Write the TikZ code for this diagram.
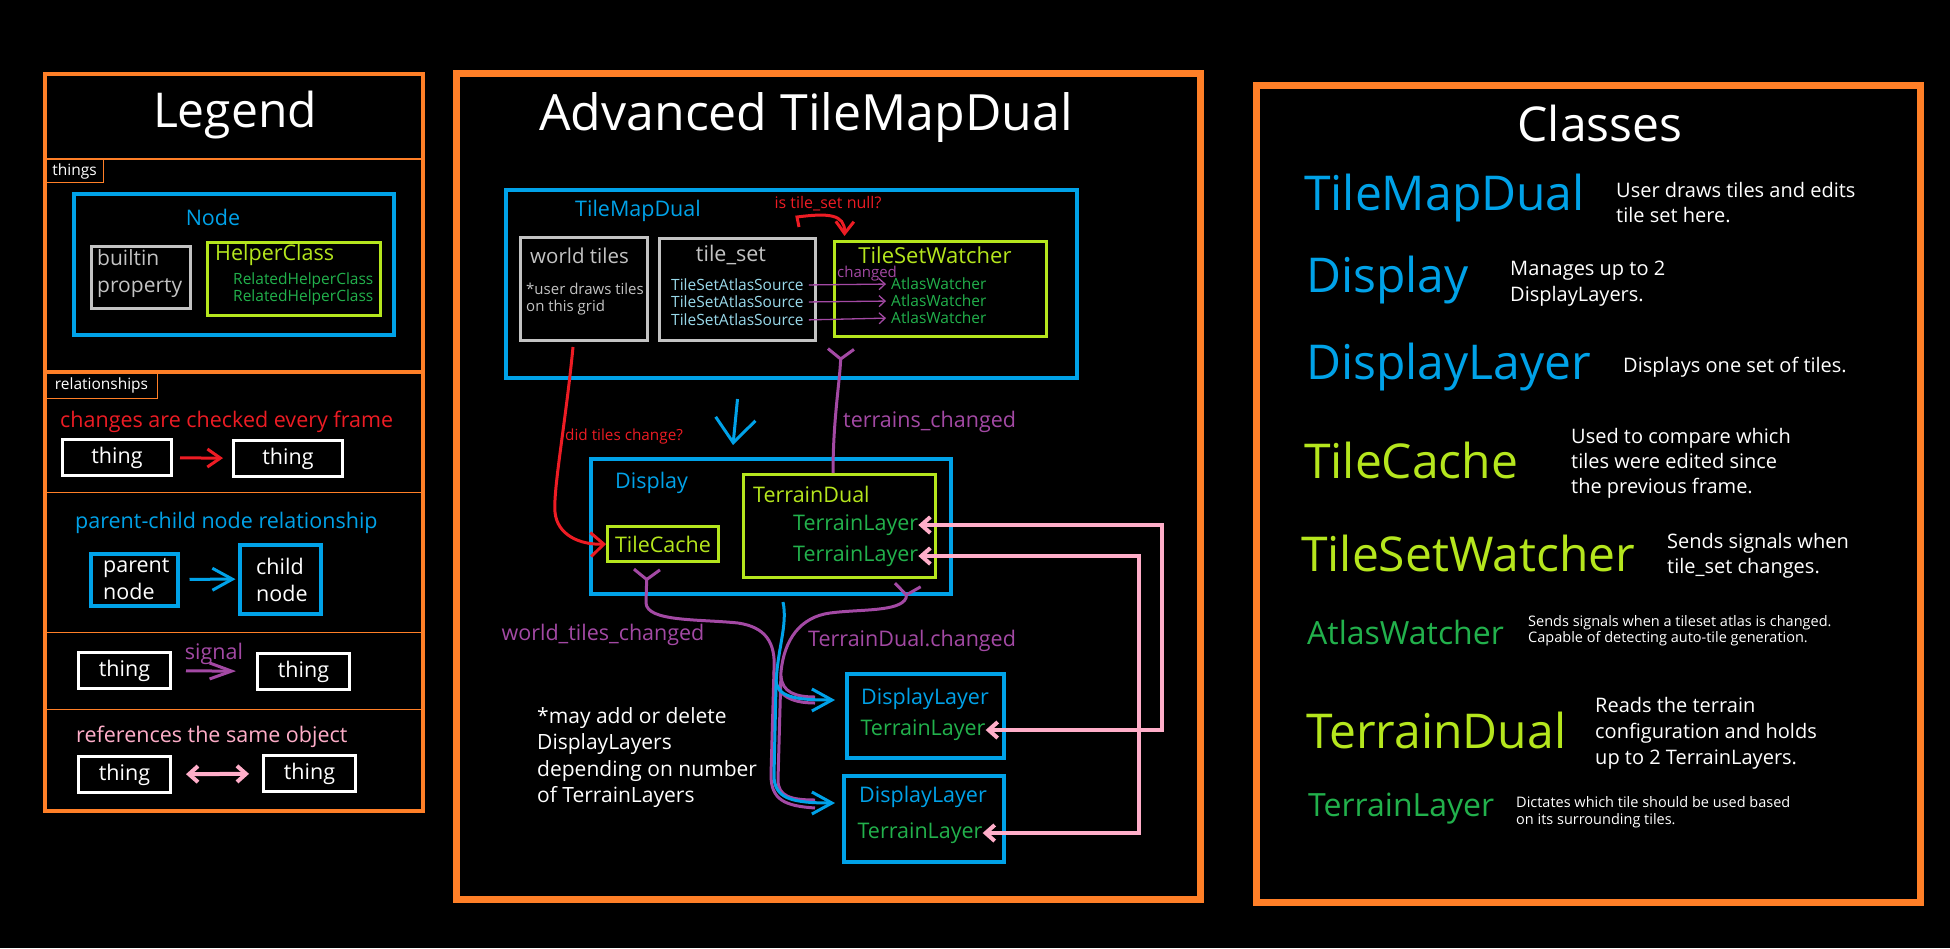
\documentclass[tikz,border=0pt]{standalone}
\usepackage{fontspec}
\setmainfont{Open Sans}
\usetikzlibrary{arrows.meta,positioning,calc}
\definecolor{PaintOrange}{RGB}{255,127,39}
\definecolor{PaintBlue}{RGB}{0,162,232}
\definecolor{PaintLime}{RGB}{181,230,29}
\definecolor{PaintGreen}{RGB}{34,177,76}
\definecolor{PaintRed}{RGB}{237,28,36}
\definecolor{PaintPurple}{RGB}{163,73,164}
\definecolor{PaintPink}{RGB}{255,174,201}
\definecolor{PaintGrey}{RGB}{195,195,195}
\definecolor{PaintCyan}{RGB}{153,217,234}
\tikzset{
  panelframe/.style={draw=PaintOrange, line width=7pt},
  divider/.style={draw=PaintOrange, line width=1pt},
  tabbox/.style={draw=PaintOrange, line width=1pt, inner sep=0pt, anchor=north west},
  lbl/.style={inner sep=0pt, text=white},
  bigtitle/.style={lbl, font=\fontsize{48}{56}\selectfont},
  bodytext/.style={lbl, font=\fontsize{21.5}{26}\selectfont},
  smalltext/.style={lbl, font=\fontsize{15.5}{17}\selectfont},
  classname/.style={lbl, anchor=west, font=\fontsize{48}{56}\selectfont},
  classnote/.style={lbl, anchor=west, align=left, font=\fontsize{20}{25}\selectfont},
  bluebox/.style={draw=PaintBlue, line width=4pt, inner sep=0pt},
  limebox/.style={draw=PaintLime, line width=3pt, inner sep=0pt},
  greybox/.style={draw=PaintGrey, line width=3pt, inner sep=0pt},
  thingbox/.style={bodytext, draw=white, line width=3pt, minimum width=109pt, minimum height=36pt},
  checkarrow/.style={draw=PaintRed, line width=3pt, -{Straight Barb[length=13pt,width=18pt]}},
  childarrow/.style={draw=PaintBlue, line width=3pt, -{Straight Barb[length=20pt,width=22pt]}},
  signalarrow/.style={draw=PaintPurple, line width=3pt, -{Straight Barb[length=22pt,width=16pt]}},
  signalline/.style={draw=PaintPurple, line width=3pt},
  watchstart/.style={{Straight Barb[reversed,length=10pt,width=26pt]}-},
  refarrow/.style={draw=PaintPink, line width=4pt, {Straight Barb[length=9pt,width=16pt]}-{Straight Barb[length=9pt,width=16pt]}}
}
\begin{document}
\begin{tikzpicture}[x=1pt, y=-1pt]
  \fill[black] (0,0) rectangle (1950,948);
  \useasboundingbox (0,0) rectangle (1950,948);

  % legend
  \draw[panelframe, line width=4.5pt] (45,74) rectangle (423,811);
  \draw[draw=PaintOrange, line width=2.5pt] (45,159) -- (423,159);
  \draw[draw=PaintOrange, line width=4pt] (45,372) -- (423,372);
  \foreach \y in {492,632,709}
    \draw[divider] (45,\y) -- (423,\y);
  \node[bigtitle] (legendTitle) at (235,115) {Legend};
  \node[tabbox, smalltext, minimum width=58pt, minimum height=23pt] (thingsTab) at (45,159) {things};
  \node[tabbox, smalltext, minimum width=112pt, minimum height=26pt] (relTab) at (45,372) {relationships};

  \node[bluebox, minimum width=320pt, minimum height=141pt] (nodeBox) at (234,264.5) {};
  \node[bodytext, text=PaintBlue] (nodeTxt) at (213,217) {Node};
  \node[greybox, minimum width=99pt, minimum height=62pt] (builtinBox) at (141,277.5) {};
  \node[bodytext, text=PaintGrey, anchor=west, align=left, font=\fontsize{21}{27}\selectfont] (builtinTxt) at (97,274) {builtin\\property};
  \node[limebox, minimum width=173pt, minimum height=73pt] (helperBox) at (294,279) {};
  \node[bodytext, text=PaintLime, anchor=west] (helperTxt) at (215,255) {HelperClass};
  \node[smalltext, text=PaintGreen, anchor=west] (relatedA) at (233,280) {RelatedHelperClass};
  \node[smalltext, text=PaintGreen, anchor=west] (relatedB) at (233,297) {RelatedHelperClass};

  \node[bodytext, text=PaintRed, anchor=west] (checkTxt) at (60,422) {changes are checked every frame};
  \node[thingbox] (checkA) at (117,457.5) {thing};
  \node[thingbox] (checkB) at (288,458.5) {thing};
  \draw[checkarrow, shorten <=7pt, shorten >=9pt] (checkA) -- (checkB);

  \node[bodytext, text=PaintBlue, anchor=west] (parentTxt) at (75,523) {parent-child node relationship};
  \node[bluebox, minimum width=87pt, minimum height=52pt] (parentBox) at (134,579.5) {};
  \node[bodytext, anchor=west, align=left, font=\fontsize{21.5}{27}\selectfont] (parentLbl) at (103,579) {parent\\node};
  \node[bluebox, minimum width=81pt, minimum height=69pt] (childBox) at (280,579) {};
  \node[bodytext, anchor=west, align=left, font=\fontsize{21.5}{27}\selectfont] (childLbl) at (256,580) {child\\node};
  \draw[childarrow, shorten <=10pt, shorten >=2pt] (parentBox) -- (childBox);

  \node[thingbox, minimum width=92pt] (signalA) at (124.5,670.5) {thing};
  \node[thingbox, minimum width=92pt] (signalB) at (303.5,671.5) {thing};
  \draw[signalarrow, shorten <=14pt, shorten >=20pt] (signalA) -- node[bodytext, text=PaintPurple, above=5pt] (signalTxt) {signal} (signalB);

  \node[bodytext, text=PaintPink, anchor=west] (refTxt) at (76,737) {references the same object};
  \node[thingbox, minimum width=92pt] (refA) at (124.5,774.5) {thing};
  \node[thingbox, minimum width=92pt] (refB) at (309.5,773.5) {thing};
  \draw[refarrow, shorten <=14pt, shorten >=13pt] (refA) -- (refB);

  % advanced tilemapdual
  \draw[panelframe] (456,73) rectangle (1200,899);
  \node[bigtitle, font=\fontsize{50}{58}\selectfont] (advTitle) at (806,118) {Advanced TileMapDual};

  \node[bluebox, minimum width=571pt, minimum height=188pt] (tmd) at (791.5,284) {};
  \node[bodytext, text=PaintBlue] (tmdTxt) at (638,211) {TileMapDual};
  \node[greybox, minimum width=127pt, minimum height=103pt] (world) at (584,289) {};
  \node[bodytext, text=PaintGrey, anchor=west, font=\fontsize{20.5}{24}\selectfont] (worldTxt) at (530,256) {world tiles};
  \node[smalltext, text=PaintGrey, anchor=west, align=left, font=\fontsize{15}{17}\selectfont] (worldNote) at (526,299.5) {*user draws tiles\\on this grid};
  \node[greybox, minimum width=156pt, minimum height=102pt] (tileset) at (737.5,289.5) {};
  \node[bodytext, text=PaintGrey] (tilesetTxt) at (731,255) {tile\_set};
  \foreach \i/\y in {1/285,2/302,3/320}
    \node[smalltext, text=PaintCyan, anchor=west] (source\i) at (671,\y) {TileSetAtlasSource};
  \node[limebox, minimum width=212pt, minimum height=95pt] (tsw) at (940.5,289) {};
  \node[bodytext, text=PaintLime, font=\fontsize{22}{26}\selectfont] (tswTxt) at (935,255.5) {TileSetWatcher};
  \node[smalltext, text=PaintPurple, anchor=west, font=\fontsize{15}{17}\selectfont] (changedTxt) at (837,274) {changed};
  \foreach \i/\y in {1/284,2/301,3/318}
    \node[smalltext, text=PaintGreen, anchor=west] (atlas\i) at (891,\y) {AtlasWatcher};
  \foreach \i in {1,2,3}
    \draw[draw=PaintPurple, line width=1.3pt, -{Straight Barb[length=6pt,width=11pt]}, shorten <=5pt, shorten >=5pt] (source\i.east) -- (atlas\i.west);
  \node[smalltext, text=PaintRed, font=\fontsize{16}{19}\selectfont] (nullTxt) at (828,204) {is tile\_set null?};
  \draw[checkarrow, -{Straight Barb[length=12pt,width=18pt]}] ([xshift=-18pt,yshift=10pt]tileset.north east) -- (797,217) .. controls (828,213) and (845,214) .. ([xshift=-96pt,yshift=4pt]tsw.north);

  \node[bluebox, minimum width=360pt, minimum height=135pt] (disp) at (771,526.5) {};
  \node[bodytext, text=PaintBlue, anchor=west] (dispTxt) at (615,483) {Display};
  \node[limebox, bodytext, text=PaintLime, minimum width=111pt, minimum height=35pt] (tc) at (663,544) {TileCache};
  \node[limebox, minimum width=192pt, minimum height=103pt] (td) at (839.5,526) {};
  \node[bodytext, text=PaintLime, anchor=west] (tdTxt) at (753,494) {TerrainDual};
  \node[bodytext, text=PaintGreen, anchor=west] (layer1) at (793,525) {TerrainLayer};
  \node[bodytext, text=PaintGreen, anchor=west] (layer2) at (793,556) {TerrainLayer};

  \node[bluebox, minimum width=157pt, minimum height=84pt] (dl1) at (925.5,716) {};
  \node[bodytext, text=PaintBlue] (dl1Txt) at (925,699) {DisplayLayer};
  \node[bodytext, text=PaintGreen] (dlayer1) at (923,730) {TerrainLayer};
  \node[bluebox, minimum width=160pt, minimum height=86pt] (dl2) at (924,819) {};
  \node[bodytext, text=PaintBlue] (dl2Txt) at (923,797) {DisplayLayer};
  \node[bodytext, text=PaintGreen] (dlayer2) at (920,833) {TerrainLayer};

  \node[smalltext, text=PaintRed, anchor=west, font=\fontsize{15.3}{18}\selectfont] (didTxt) at (565,437) {did tiles change?};
  \node[bodytext, text=PaintPurple, anchor=west] (terrTxt) at (843,422) {terrains\_changed};
  \node[bodytext, text=PaintPurple] (worldSigTxt) at (603,635) {world\_tiles\_changed};
  \node[bodytext, text=PaintPurple, anchor=west] (tdSigTxt) at (808,641) {TerrainDual.changed};
  \node[bodytext, anchor=west, align=left, font=\fontsize{21}{26.3}\selectfont] (noteTxt) at (537,757.5) {*may add or delete\\DisplayLayers\\depending on number\\of TerrainLayers};

  % connectors
  \draw[checkarrow, -{Straight Barb[length=13pt,width=24pt]}] ([xshift=-11pt,yshift=-5pt]world.south) .. controls (566,420) and (553,490) .. (555,512) .. controls (557,535) and (580,545) .. (tc.west);
  \draw[childarrow, -{Straight Barb[length=24pt,width=40pt]}] ([xshift=-54pt,yshift=-19pt]tmd.south) -- ([xshift=-38pt,yshift=12pt]disp.north);
  \draw[signalline, -{Straight Barb[reversed,length=10pt,width=26pt]}] ([xshift=-6.5pt]td.north) .. controls (833,420) and (840,380) .. ([xshift=-99.5pt,yshift=-9.5pt]tsw.south);

  \draw[signalline, watchstart] ([xshift=-16pt,yshift=-5pt]tc.south) -- (646,603) .. controls (647,622) and (700,619) .. (738,623) .. controls (765,627) and (776,642) .. (774,670) -- (771,775) .. controls (771,800) and (785,806) .. ([xshift=-27pt,yshift=11pt]dl2.west);
  \draw[signalline] (774,672) .. controls (775,695) and (790,703) .. ([xshift=-30pt,yshift=13pt]dl1.west);
  \draw[signalline, watchstart] ([xshift=68.5pt,yshift=-4.5pt]td.south) -- (906,598) .. controls (900,612) and (860,609) .. (830,613) .. controls (800,617) and (784,640) .. (781,672) -- (778,780) .. controls (778,796) and (790,800) .. ([xshift=-27pt,yshift=19pt]dl2.west);
  \draw[signalline] (781,676) .. controls (782,692) and (795,697) .. ([xshift=-30pt,yshift=19pt]dl1.west);
  \draw[childarrow] ([xshift=12pt,yshift=-6pt]disp.south) .. controls (788,625) and (777,650) .. (776,685) -- (774,775) .. controls (774,798) and (790,803) .. ([xshift=-7pt,yshift=16pt]dl2.west);
  \draw[childarrow] (776,680) .. controls (777,697) and (795,700) .. ([xshift=-10pt,yshift=16pt]dl1.west);

  \coordinate (outerRef) at (1162,0);
  \coordinate (innerRef) at (1139,0);
  \draw[refarrow] (layer1.east) -- (layer1.east -| outerRef) |- (dlayer1.east);
  \draw[refarrow] (layer2.east) -- (layer2.east -| innerRef) |- (dlayer2.east);

  % classes
  \draw[panelframe] (1256,85) rectangle (1920,902);
  \node[bigtitle] (classTitle) at (1600,123) {Classes};
  \foreach \n/\c/\x/\y in {TileMapDual/PaintBlue/1304/198, Display/PaintBlue/1306/280, DisplayLayer/PaintBlue/1306/367, TileCache/PaintLime/1304/460, TileSetWatcher/PaintLime/1301/553, TerrainDual/PaintLime/1306/730}
    \node[classname, text=\c] (c\n) at (\x,\y) {\n};
  \node[classname, text=PaintGreen, font=\fontsize{32}{38}\selectfont] (cAtlasWatcher) at (1307,632) {AtlasWatcher};
  \node[classname, text=PaintGreen, font=\fontsize{32}{38}\selectfont] (cTerrainLayer) at (1308,809) {TerrainLayer};

  \node[classnote] (nTileMapDual) at (1616,202.5) {User draws tiles and edits\\tile set here.};
  \node[classnote, font=\fontsize{20}{26.5}\selectfont] (nDisplay) at (1510,283.5) {Manages up to 2\\DisplayLayers.};
  \node[classnote] (nDisplayLayer) at (1623,367) {Displays one set of tiles.};
  \node[classnote] (nTileCache) at (1571,463) {Used to compare which\\tiles were edited since\\the previous frame.};
  \node[classnote] (nTileSetWatcher) at (1667,555.5) {Sends signals when\\tile\_set changes.};
  \node[classnote, font=\fontsize{14.5}{16}\selectfont] (nAtlasWatcher) at (1528,631) {Sends signals when a tileset atlas is changed.\\Capable of detecting auto-tile generation.};
  \node[classnote, font=\fontsize{20}{26}\selectfont] (nTerrainDual) at (1595,733) {Reads the terrain\\configuration and holds\\up to 2 TerrainLayers.};
  \node[classnote, font=\fontsize{14.5}{17}\selectfont] (nTerrainLayer) at (1516,812.5) {Dictates which tile should be used based\\on its surrounding tiles.};
\end{tikzpicture}
\end{document}
